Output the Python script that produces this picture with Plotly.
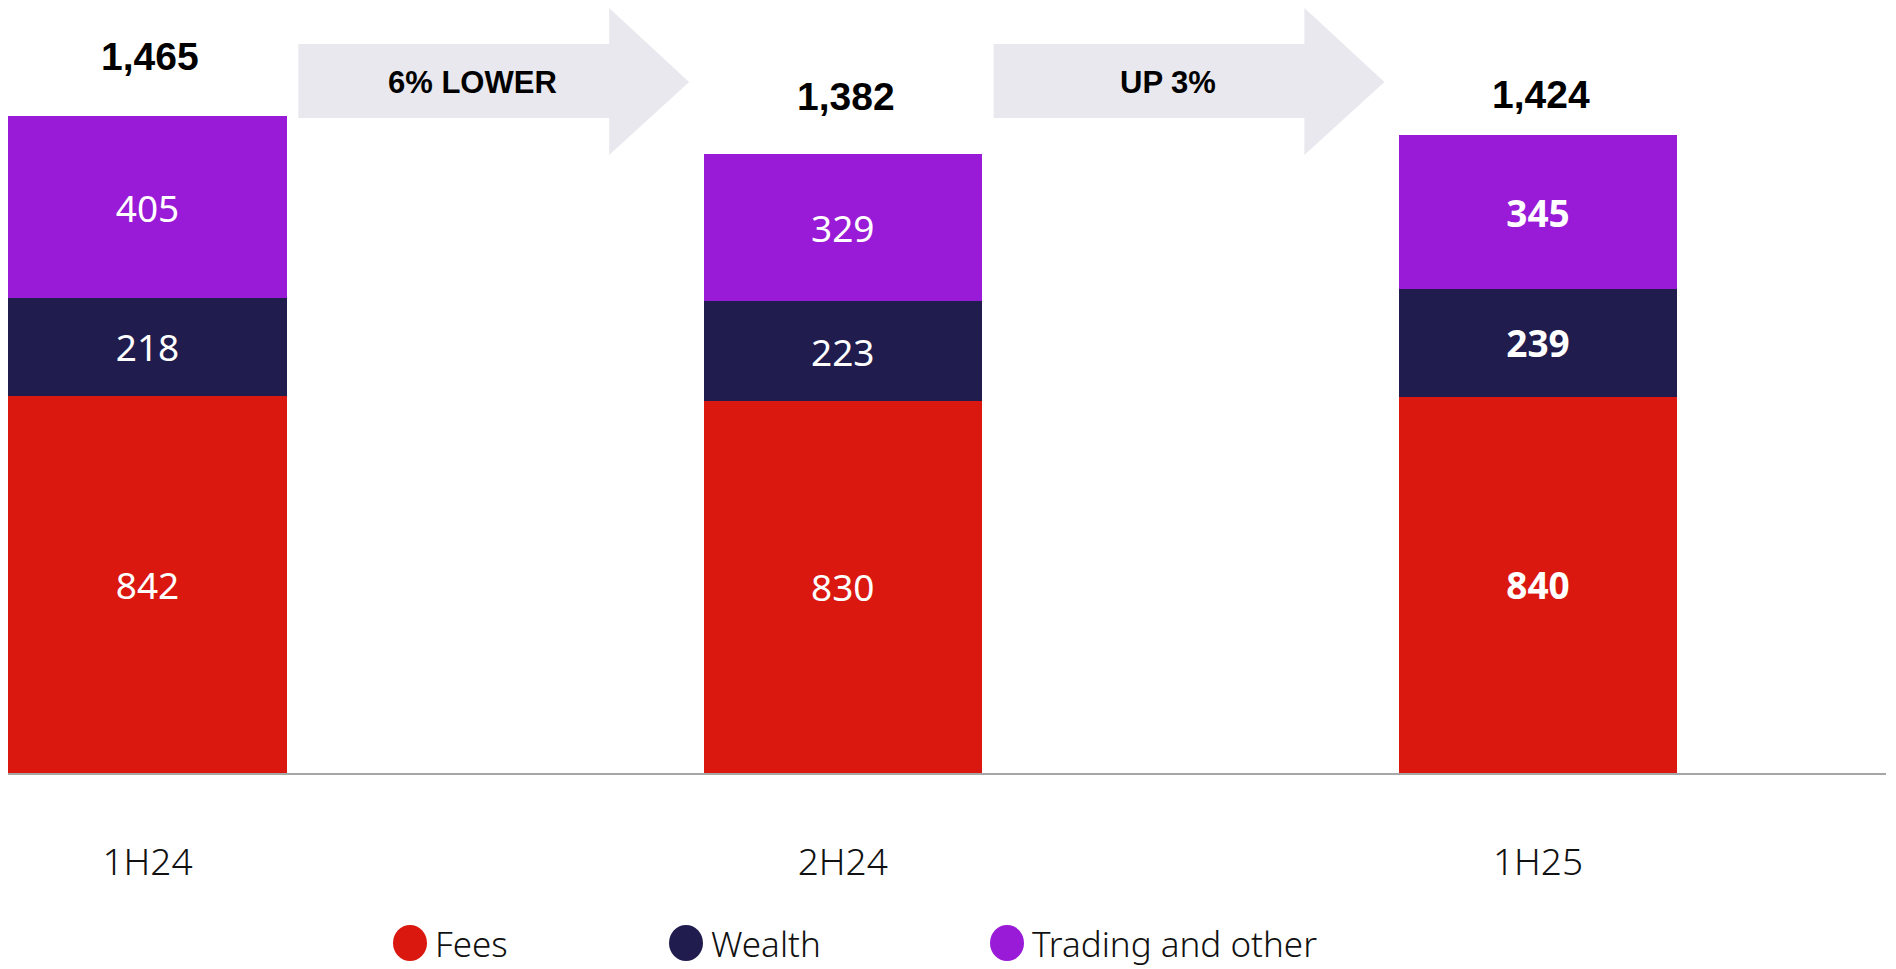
import plotly.graph_objects as go

# ---- data ----
periods = ["1H24", "2H24", "1H25"]
fees = [842, 830, 840]
wealth = [218, 223, 239]
trading = [405, 329, 345]
totals = [1465, 1382, 1424]
changes = ["6% LOWER", "UP 3%"]
series_names = ["Fees", "Wealth", "Trading and other"]

# ---- styles ----
colors = ["#DA1810", "#201C4E", "#991AD7"]
W, H = 1888, 961          # page has an 8px body margin
ML, MR, MT, MB = 0, 10, 0, 196
PLOT_W = W - ML - MR
PLOT_H = H - MT - MB
PX_PER_UNIT = 0.4482
Y_MAX = PLOT_H / PX_PER_UNIT
X_MIN, X_MAX = -0.2006, 2.5005
LABEL_FONT = "Noto Sans, Lato, sans-serif"
NARROW_FONT = "Liberation Sans Narrow, Liberation Sans, Arial, sans-serif"

xs = list(range(len(periods)))
fig = go.Figure()

for si, (name, vals) in enumerate(zip(series_names, [fees, wealth, trading])):
    txt = [f"<b>{v}</b>" if i == len(vals) - 1 else str(v) for i, v in enumerate(vals)]
    fig.add_trace(go.Bar(
        x=xs, y=vals, name=name, width=0.4,
        marker=dict(color=colors[si], line=dict(width=0)),
        text=txt, textposition="inside", insidetextanchor="middle",
        textangle=0, constraintext="none",
        textfont=dict(family=LABEL_FONT, size=37, color="white"),
        showlegend=False, hoverinfo="name+y",
    ))

annotations = []
shapes = []

# totals above bars
total_shift = [60, 57, 40]
for x, t, sh in zip(xs, totals, total_shift):
    annotations.append(dict(
        x=x, y=t, xref="x", yref="y", text=f"{t:,}", showarrow=False,
        yanchor="middle", yshift=sh, xshift=3,
        font=dict(family=NARROW_FONT, size=39, color="black", weight="bold"),
    ))

# change arrows between bars (y positions in pixels from the top of the plot)
def y_of(py):
    return (PLOT_H - py) / PX_PER_UNIT

BODY_HI, BODY_LO = y_of(36), y_of(110)
HEAD_HI, HEAD_LO = y_of(0), y_of(147)
MID = y_of(74)
for i, label in enumerate(changes):
    x0, xh, xt = i + 0.217, i + 0.664, i + 0.779
    path = (f"M {x0},{BODY_LO} L {x0},{BODY_HI} L {xh},{BODY_HI} L {xh},{HEAD_HI} "
            f"L {xt},{MID} L {xh},{HEAD_LO} L {xh},{BODY_LO} Z")
    shapes.append(dict(type="path", path=path, xref="x", yref="y",
                       fillcolor="#E8E8EE", line=dict(width=0), layer="below"))
    annotations.append(dict(
        x=i + 0.468, y=MID, xref="x", yref="y", text=label, showarrow=False,
        font=dict(family=NARROW_FONT, size=31, color="black", weight="bold"),
    ))

# custom legend with round markers
legend_px = [402, 678, 999]
legend_py = 935
for px, name, col in zip(legend_px, series_names, colors):
    xp = px / PLOT_W
    yp = (PLOT_H - legend_py) / PLOT_H
    shapes.append(dict(type="circle", xref="paper", yref="paper",
                       xsizemode="pixel", ysizemode="pixel",
                       xanchor=xp, yanchor=yp, x0=-17, x1=17, y0=-18, y1=18,
                       fillcolor=col, line=dict(width=0)))
    annotations.append(dict(
        x=xp, y=yp, xref="paper", yref="paper", text=name, showarrow=False,
        xanchor="left", yanchor="middle", xshift=23,
        font=dict(family=LABEL_FONT, size=35, color="#111111", weight=300),
    ))

fig.update_layout(
    width=W, height=H,
    margin=dict(l=ML, r=MR, t=MT, b=MB),
    barmode="stack",
    plot_bgcolor="white", paper_bgcolor="white",
    annotations=annotations, shapes=shapes,
    showlegend=False,
)
fig.update_xaxes(
    range=[X_MIN, X_MAX], tickvals=xs, ticktext=periods,
    showgrid=False, zeroline=False, showline=True, linecolor="#A6A6A6", linewidth=2,
    ticks="", ticklabelstandoff=56,
    tickfont=dict(family=LABEL_FONT, size=37, color="#111111", weight=300),
)
fig.update_yaxes(range=[0, Y_MAX], visible=False, showgrid=False, zeroline=False)

fig.write_html("out.html")
